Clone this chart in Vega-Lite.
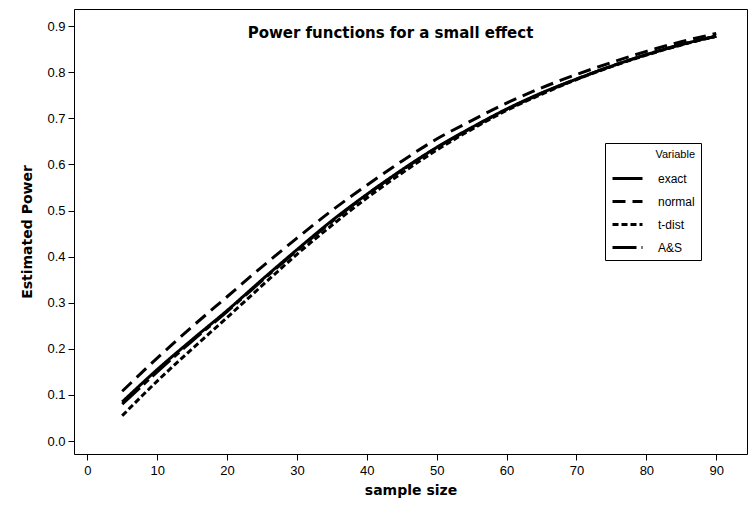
{
  "$schema": "https://vega.github.io/schema/vega-lite/v6.json",
  "autosize": "none",
  "width": 673,
  "height": 445,
  "padding": {"left": 74, "top": 9, "right": 5, "bottom": 69},
  "background": "white",
  "config": {
    "view": {"stroke": "black", "strokeWidth": 1},
    "font": "Liberation Sans",
    "axis": {"labelFont": "Liberation Sans", "titleFont": "DejaVu Sans", "labelColor": "black", "titleColor": "black", "domainColor": "black", "tickColor": "black", "grid": false}
  },
  "title": {"text": "Power functions for a small effect", "font": "DejaVu Sans", "fontSize": 15, "fontWeight": "bold", "color": "black", "anchor": "middle", "offset": -32, "dx": -20},
  "data": {"values": [
    {"n":5,"power":0.085,"Variable":"exact"},{"n":10,"power":0.155,"Variable":"exact"},{"n":15,"power":0.22,"Variable":"exact"},{"n":20,"power":0.283,"Variable":"exact"},{"n":25,"power":0.35,"Variable":"exact"},{"n":30,"power":0.415,"Variable":"exact"},{"n":35,"power":0.478,"Variable":"exact"},{"n":40,"power":0.535,"Variable":"exact"},{"n":45,"power":0.588,"Variable":"exact"},{"n":50,"power":0.637,"Variable":"exact"},{"n":55,"power":0.68,"Variable":"exact"},{"n":60,"power":0.72,"Variable":"exact"},{"n":65,"power":0.755,"Variable":"exact"},{"n":70,"power":0.785,"Variable":"exact"},{"n":75,"power":0.813,"Variable":"exact"},{"n":80,"power":0.838,"Variable":"exact"},{"n":85,"power":0.86,"Variable":"exact"},{"n":90,"power":0.878,"Variable":"exact"},
    {"n":5,"power":0.108,"Variable":"normal"},{"n":10,"power":0.18,"Variable":"normal"},{"n":15,"power":0.248,"Variable":"normal"},{"n":20,"power":0.313,"Variable":"normal"},{"n":25,"power":0.378,"Variable":"normal"},{"n":30,"power":0.44,"Variable":"normal"},{"n":35,"power":0.5,"Variable":"normal"},{"n":40,"power":0.555,"Variable":"normal"},{"n":45,"power":0.607,"Variable":"normal"},{"n":50,"power":0.655,"Variable":"normal"},{"n":55,"power":0.695,"Variable":"normal"},{"n":60,"power":0.733,"Variable":"normal"},{"n":65,"power":0.766,"Variable":"normal"},{"n":70,"power":0.795,"Variable":"normal"},{"n":75,"power":0.821,"Variable":"normal"},{"n":80,"power":0.845,"Variable":"normal"},{"n":85,"power":0.866,"Variable":"normal"},{"n":90,"power":0.884,"Variable":"normal"},
    {"n":5,"power":0.055,"Variable":"t-dist"},{"n":10,"power":0.13,"Variable":"t-dist"},{"n":15,"power":0.2,"Variable":"t-dist"},{"n":20,"power":0.268,"Variable":"t-dist"},{"n":25,"power":0.337,"Variable":"t-dist"},{"n":30,"power":0.405,"Variable":"t-dist"},{"n":35,"power":0.468,"Variable":"t-dist"},{"n":40,"power":0.527,"Variable":"t-dist"},{"n":45,"power":0.581,"Variable":"t-dist"},{"n":50,"power":0.631,"Variable":"t-dist"},{"n":55,"power":0.676,"Variable":"t-dist"},{"n":60,"power":0.717,"Variable":"t-dist"},{"n":65,"power":0.752,"Variable":"t-dist"},{"n":70,"power":0.784,"Variable":"t-dist"},{"n":75,"power":0.812,"Variable":"t-dist"},{"n":80,"power":0.837,"Variable":"t-dist"},{"n":85,"power":0.859,"Variable":"t-dist"},{"n":90,"power":0.878,"Variable":"t-dist"},
    {"n":5,"power":0.08,"Variable":"A&S"},{"n":10,"power":0.15,"Variable":"A&S"},{"n":15,"power":0.217,"Variable":"A&S"},{"n":20,"power":0.281,"Variable":"A&S"},{"n":25,"power":0.348,"Variable":"A&S"},{"n":30,"power":0.413,"Variable":"A&S"},{"n":35,"power":0.476,"Variable":"A&S"},{"n":40,"power":0.534,"Variable":"A&S"},{"n":45,"power":0.587,"Variable":"A&S"},{"n":50,"power":0.636,"Variable":"A&S"},{"n":55,"power":0.679,"Variable":"A&S"},{"n":60,"power":0.719,"Variable":"A&S"},{"n":65,"power":0.754,"Variable":"A&S"},{"n":70,"power":0.785,"Variable":"A&S"},{"n":75,"power":0.813,"Variable":"A&S"},{"n":80,"power":0.838,"Variable":"A&S"},{"n":85,"power":0.86,"Variable":"A&S"},{"n":90,"power":0.878,"Variable":"A&S"}
  ]},
  "mark": {"type": "line", "color": "black", "strokeWidth": 3, "interpolate": "monotone"},
  "encoding": {
    "x": {"field": "n", "type": "quantitative", "title": "sample size",
      "scale": {"domain": [-1.9, 94.4], "nice": false, "zero": false},
      "axis": {"values": [0,10,20,30,40,50,60,70,80,90], "labelFontSize": 13, "titleFontSize": 14, "titleFontWeight": "bold", "tickSize": 6, "labelPadding": 4, "titlePadding": 6, "domain": false}},
    "y": {"field": "power", "type": "quantitative", "title": "Estimated Power",
      "scale": {"domain": [-0.028, 0.937], "nice": false, "zero": false},
      "axis": {"values": [0,0.1,0.2,0.3,0.4,0.5,0.6,0.7,0.8,0.9], "format": ".1f", "labelFontSize": 13, "titleFontSize": 14, "titleFontWeight": "bold", "tickSize": 6, "labelPadding": 3, "titlePadding": 12, "domain": false}},
    "strokeDash": {"field": "Variable", "type": "nominal",
      "scale": {"domain": ["exact", "normal", "t-dist", "A&S"], "range": [[1,0], [13,7], [6,3], [24,5,7,5]]},
      "legend": {"orient": "none", "legendX": 531, "legendY": 134, "title": "Variable", "titleFontWeight": "normal", "titleFontSize": 11, "titleFont": "Liberation Sans", "titleAlign": "right", "titleAnchor": "end", "titlePadding": 2, "labelFontSize": 12, "labelFont": "Liberation Sans", "symbolType": "stroke", "symbolStrokeWidth": 3, "symbolStrokeColor": "black", "symbolSize": 900, "strokeColor": "black", "padding": 6, "rowPadding": 0, "labelOffset": 14, "fillColor": "white"}}
  }
}
